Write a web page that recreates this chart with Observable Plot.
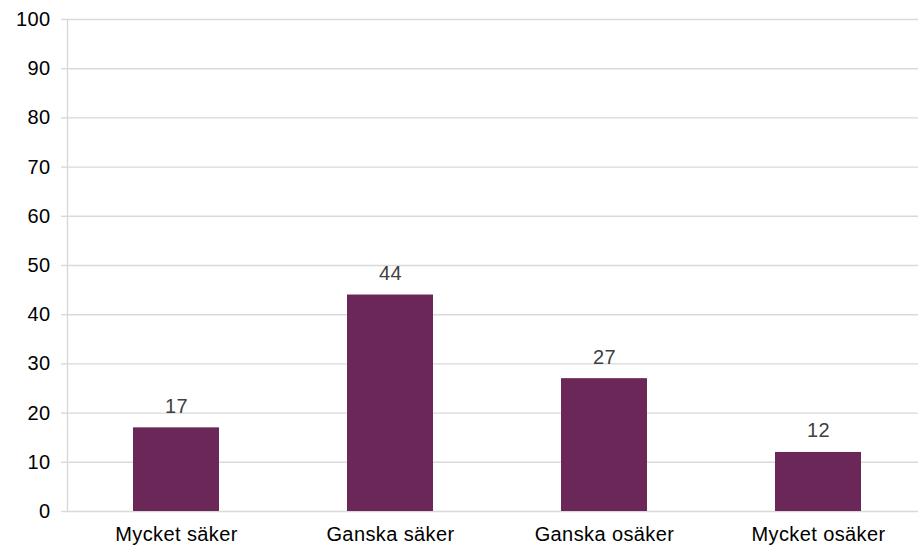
<!DOCTYPE html>
<html>
<head>
<meta charset="utf-8">
<script src="https://cdn.jsdelivr.net/npm/d3@7"></script>
<script src="https://cdn.jsdelivr.net/npm/@observablehq/plot@0.6"></script>
<style>
  html, body { margin: 0; padding: 0; background: #fff; }
  svg { display: block; }
</style>
</head>
<body>
<div id="chart"></div>
<script>
const categories = ["Mycket säker", "Ganska säker", "Ganska osäker", "Mycket osäker"];
const values = [17, 44, 27, 12];
const yTicks = [0, 10, 20, 30, 40, 50, 60, 70, 80, 90, 100];

const data = categories.map((c, i) => ({category: c, value: values[i]}));

const chart = Plot.plot({
  width: 918,
  height: 548,
  marginLeft: 67,
  marginRight: 0,
  marginTop: 19,
  marginBottom: 37,
  style: {fontFamily: "Liberation Sans, Arial, sans-serif", fontSize: "20px", color: "#000", background: "#fff", letterSpacing: "0.4px"},
  x: {domain: categories, range: [68, 926], paddingInner: 0.6, paddingOuter: 0.3, label: null},
  y: {domain: [0, 100], ticks: yTicks, label: null},
  marks: [
    Plot.gridY(yTicks, {stroke: "#d9d9d9", strokeOpacity: 1, strokeWidth: 1.4}),
    Plot.frame({anchor: "left", stroke: "#d9d9d9", strokeWidth: 1.4}),
    Plot.axisY({ticks: yTicks, tickSize: 6, tickPadding: 11, stroke: "#d9d9d9", strokeWidth: 1.4, fill: "#000", fontSize: 20}),
    Plot.axisX({tickSize: 0, tickPadding: 15, fill: "#000", fontSize: 20}),
    Plot.barY(data, {x: "category", y: "value", fill: "#6B2757"}),
    Plot.text(data, {x: "category", y: "value", text: d => String(d.value), dy: -15, lineAnchor: "bottom", fill: "#404040", fontSize: 20})
  ]
});
document.getElementById("chart").appendChild(chart);
</script>
</body>
</html>
